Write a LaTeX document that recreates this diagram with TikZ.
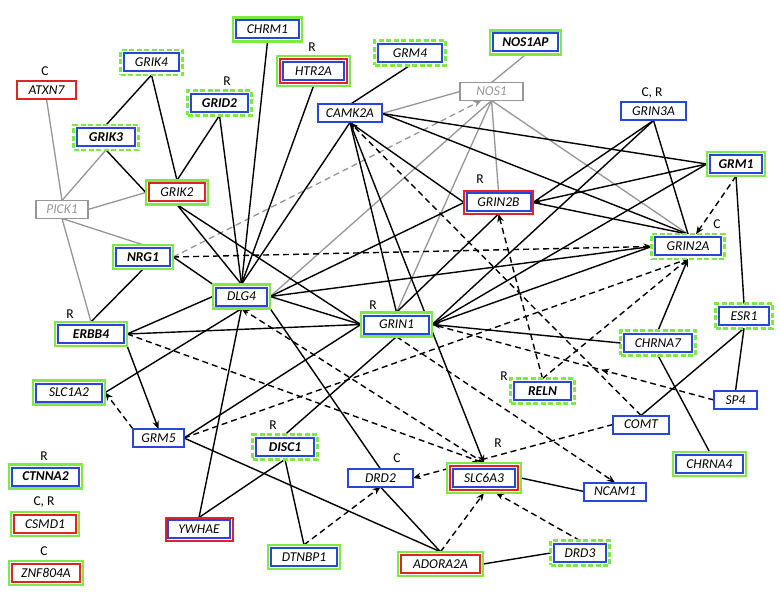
\documentclass[tikz,border=0pt]{standalone}
\usepackage{fontspec}
\setmainfont{Carlito}
\usetikzlibrary{arrows.meta,decorations.markings,backgrounds}
\definecolor{gblue}{RGB}{40,70,215}
\definecolor{ggreen}{RGB}{125,232,70}
\definecolor{gred}{RGB}{225,35,35}
\definecolor{ggray}{RGB}{150,150,150}
\newcommand\genefont{\fontsize{13.5}{15}\selectfont\itshape}
\newcommand\boxin[3]{\draw[#3] ([shift={(#2pt,#2pt)}]#1.south west) rectangle ([shift={(-#2pt,-#2pt)}]#1.north east);}
\tikzset{
  gbase/.style={outer sep=0pt, inner sep=0pt, fill=white, font=\genefont, text=black},
  bluebox/.style={draw=gblue, line width=2pt},
  redbox/.style={draw=gred, line width=2pt},
  kA/.style={gbase, draw=ggreen, line width=2.5pt, minimum width={(#1+6.4)*1pt}, minimum height=24.4pt},
  kB/.style={gbase, draw=ggreen, line width=2.5pt, dash pattern=on 5pt off 2.5pt, minimum width={(#1+6.8)*1pt}, minimum height=24.8pt},
  kC/.style={gbase, draw=gblue, line width=2pt, minimum width={#1*1pt}, minimum height=18pt},
  kD/.style={gbase, draw=gred, line width=2pt, minimum width={#1*1pt}, minimum height=18pt},
  kE/.style={gbase, draw=ggray, line width=1.5pt, text=ggray, minimum width={#1*1pt}, minimum height=18pt},
  kF/.style={gbase, draw=ggreen, line width=2.5pt, minimum width={(#1+12)*1pt}, minimum height=30pt},
  kG/.style={gbase, draw=ggreen, line width=2.5pt, minimum width={(#1+6.4)*1pt}, minimum height=24.4pt},
  kH/.style={gbase, draw=gred, line width=2pt, minimum width={(#1+5)*1pt}, minimum height=23pt},
  lab/.style={font=\fontsize{13.5}{15}\selectfont, inner sep=0pt},
  e/.style={draw=black, line width=1.4pt},
  ed/.style={e, dash pattern=on 6pt off 4pt},
  eg/.style={draw=ggray, line width=1.3pt},
  egd/.style={eg, dash pattern=on 6pt off 4pt},
  ar/.style={-{Stealth[length=8pt,width=6.5pt]}},
  midarrow/.style={postaction={decorate}, decoration={markings, mark=at position #1 with {\arrow{Stealth[length=8pt,width=6.5pt]}}}}
}
\newcommand\gA[5]{\node[kA=#4] (#1) at (#2,#3) {#5};\boxin{#1}{3.2}{bluebox}}
\newcommand\gB[5]{\node[kB=#4] (#1) at (#2,#3) {#5};\boxin{#1}{3.4}{bluebox}}
\newcommand\gC[5]{\node[kC=#4] (#1) at (#2,#3) {#5};}
\newcommand\gD[5]{\node[kD=#4] (#1) at (#2,#3) {#5};}
\newcommand\gE[5]{\node[kE=#4] (#1) at (#2,#3) {#5};}
\newcommand\gF[5]{\node[kF=#4] (#1) at (#2,#3) {#5};\boxin{#1}{3.2}{redbox}\boxin{#1}{6}{bluebox}}
\newcommand\gG[5]{\node[kG=#4] (#1) at (#2,#3) {#5};\boxin{#1}{3.2}{redbox}}
\newcommand\gH[5]{\node[kH=#4] (#1) at (#2,#3) {#5};\boxin{#1}{2.5}{bluebox}}
\begin{document}
\begin{tikzpicture}[x=1pt,y=-1pt]
\useasboundingbox (0,0) rectangle (780,607);
% nodes
\gA{CHRM1}{267.5}{29.5}{63}{CHRM1}
\gB{GRIK4}{151.5}{62.5}{55}{GRIK4}
\gD{ATXN7}{46.5}{90}{59}{ATXN7}
\gF{HTR2A}{313.5}{71}{61}{HTR2A}
\gB{GRM4}{410}{53}{64}{GRM4}
\gA{NOS1AP}{525.5}{42.5}{65}{\textbf{NOS1AP}}
\gE{NOS1}{491.5}{91.5}{63}{NOS1}
\gC{CAMK2A}{350}{113.5}{64}{CAMK2A}
\gB{GRID2}{219.5}{103}{57}{\textbf{GRID2}}
\gC{GRIN3A}{653.5}{111.5}{65}{GRIN3A}
\gB{GRIK3}{106}{137.5}{58}{\textbf{GRIK3}}
\gA{GRM1}{736}{164}{52}{\textbf{GRM1}}
\gG{GRIK2}{177}{192.5}{56}{GRIK2}
\gE{PICK1}{62}{209.5}{52}{PICK1}
\gH{GRIN2B}{498.5}{202.5}{64}{GRIN2B}
\gA{NRG1}{143}{257}{54}{\textbf{NRG1}}
\gB{GRIN2A}{688}{246.5}{66}{GRIN2A}
\gA{DLG4}{241.5}{296.5}{51}{DLG4}
\gA{ERBB4}{91}{334}{66}{\textbf{ERBB4}}
\gA{GRIN1}{396.5}{324.5}{65}{GRIN1}
\gB{ESR1}{744}{316}{50}{ESR1}
\gB{CHRNA7}{658}{343}{68}{CHRNA7}
\gA{SLC1A2}{69}{392.5}{66}{SLC1A2}
\gB{RELN}{542.5}{391}{57}{\textbf{RELN}}
\gC{SP4}{735.5}{400}{43}{SP4}
\gC{GRM5}{158.5}{438}{51}{GRM5}
\gC{COMT}{641}{424.5}{56}{COMT}
\gB{DISC1}{285}{447}{58}{\textbf{DISC1}}
\gA{CTNNA2}{45.5}{476.5}{67}{\textbf{CTNNA2}}
\gC{DRD2}{380.5}{478}{65}{DRD2}
\gF{SLC6A3}{484}{478}{62}{SLC6A3}
\gC{NCAM1}{615}{491.5}{62}{NCAM1}
\gA{CHRNA4}{709.5}{464}{67}{CHRNA4}
\gG{CSMD1}{45}{524}{62}{CSMD1}
\gH{YWHAE}{199}{529}{62}{YWHAE}
\gA{DTNBP1}{304}{557}{66}{DTNBP1}
\gG{ADORA2A}{440.5}{564}{79}{ADORA2A}
\gB{DRD3}{580}{553}{52}{DRD3}
\gG{ZNF804A}{46}{573}{68}{ZNF804A}
% labels
\node[lab] (lATXN7) at (45,71) {C};
\node[lab] (lHTR2A) at (312,47) {R};
\node[lab] (lGRID2) at (227,81) {R};
\node[lab] (lGRIN3A) at (652,93) {C, R};
\node[lab] (lGRIN2B) at (480,179) {R};
\node[lab] (lGRIN2A) at (717,224) {C};
\node[lab] (lERBB4) at (70,314) {R};
\node[lab] (lGRIN1) at (373,305) {R};
\node[lab] (lRELN) at (504,376) {R};
\node[lab] (lDISC1) at (273,425) {R};
\node[lab] (lDRD2) at (397,458) {C};
\node[lab] (lSLC6A3) at (498,443) {R};
\node[lab] (lCTNNA2) at (44,456) {R};
\node[lab] (lCSMD1) at (44,502) {C, R};
\node[lab] (lZNF804A) at (44,551) {C};
% edges
\begin{scope}[on background layer]
\fill[white] (0,0) rectangle (780,607);
% gray
\draw[eg] (ATXN7.south) -- (PICK1.north);
\draw[eg] (GRIK3.south) -- (PICK1.north);
\draw[eg] (GRIK2.west) -- (PICK1.east);
\draw[eg] (PICK1.south) -- (NRG1.north);
\draw[eg] (PICK1.south) -- (ERBB4.north);
\draw[eg] (NOS1AP.south) -- (NOS1.north);
\draw[eg] (CAMK2A.east) -- (NOS1.west);
\draw[eg] (NOS1.south) -- (DLG4.east);
\draw[eg] (NOS1.south) -- (GRIN1.north);
\draw[eg] (NOS1.south) -- (GRIN2B.north);
\draw[eg] (NOS1.south) -- (GRIN2A.north);
\draw[egd, ar] (NRG1.east) -- ([xshift=-10pt]NOS1.south);
% black solid
\draw[e] (GRIK4.south) -- (GRIK3.north);
\draw[e] (GRIK4.south) -- (GRIK2.north);
\draw[e] (GRIK3.south) -- (GRIK2.west);
\draw[e] (GRID2.south) -- (GRIK2.north);
\draw[e] (GRID2.south) -- (DLG4.north);
\draw[e] (CHRM1.south) -- (DLG4.north);
\draw[e] (HTR2A.south) -- (DLG4.north);
\draw[e] (GRIK2.south) -- (DLG4.north);
\draw[e] (GRIK2.south) -- (GRIN1.west);
\draw[e] (GRM4.south) -- (CAMK2A.north);
\draw[e] (CAMK2A.south) -- (DLG4.north);
\draw[e] (CAMK2A.south) -- (GRIN1.north);
\draw[e, ar] (CAMK2A.south) -- (SLC6A3.north);
\draw[e] (CAMK2A.south) -- (GRIN2B.west);
\draw[e] (CAMK2A.east) -- (GRM1.west);
\draw[e] (CAMK2A.east) -- (GRIN2A.north);
\draw[e] (GRIN3A.south) -- (GRIN2B.east);
\draw[e] (GRIN3A.south) -- (GRIN1.east);
\draw[e] (GRIN3A.south) -- (GRIN2A.north);
\draw[e, ar] (GRM1.west) -- (GRIN2B.east);
\draw[e] (GRM1.west) -- (GRIN1.east);
\draw[e] (GRM1.south) -- (ESR1.north);
\draw[e] (GRIN2B.east) -- (GRIN2A.north);
\draw[e] (GRIN2B.west) -- (DLG4.east);
\draw[e] (GRIN2B.south) -- (GRIN1.north);
\draw[e] (NRG1.south) -- (ERBB4.north);
\draw[e] (NRG1.east) -- (DLG4.north west);
\draw[e] (DLG4.west) -- (ERBB4.east);
\draw[e] (DLG4.south) -- (SLC1A2.east);
\draw[e] (DLG4.south) -- (YWHAE.north);
\draw[e] (DLG4.south east) -- (DRD2.north);
\draw[e] (DLG4.east) -- (GRIN2A.west);
\draw[e] (DLG4.east) -- (GRIN1.west);
\draw[e] (ERBB4.east) -- (GRIN1.west);
\draw[e, ar] (ERBB4.south east) -- (GRM5.north);
\draw[e] (GRM5.east) -- (GRIN1.west);
\draw[e] (GRM5.east) -- (ADORA2A.north);
\draw[e] (GRIN1.south) -- (DISC1.north);
\draw[e, ar] (CHRNA7.west) -- (GRIN1.east);
\draw[e] (GRIN1.east) -- (GRIN2A.west);
\draw[e, ar] (CHRNA7.north) -- (GRIN2A.south);
\draw[e] (CHRNA7.south) -- (CHRNA4.north);
\draw[e] (ESR1.south) -- (SP4.north);
\draw[e] (ESR1.south) -- (COMT.north);
\draw[e] (DISC1.south) -- (YWHAE.north);
\draw[e] (DISC1.south) -- (DTNBP1.north);
\draw[e] (DRD2.south) -- (ADORA2A.north);
\draw[e] (ADORA2A.east) -- (DRD3.west);
\draw[e] (SLC6A3.east) -- (NCAM1.west);
% black dashed
\draw[ed, ar] (COMT.north) -- (CAMK2A.south);
\draw[ed, ar] (GRM1.south) -- ([xshift=8pt]GRIN2A.north);
\draw[ed, ar] (NRG1.east) -- (GRIN2A.west);
\draw[ed, ar] (SLC6A3.north) -- (DLG4.south);
\draw[ed] (ERBB4.east) -- (SLC6A3.north);
\draw[ed, ar] (GRM5.north west) -- (SLC1A2.east);
\draw[ed] (GRM5.east) -- (GRIN2A.south);
\draw[ed, ar] (GRIN1.south) -- (NCAM1.north);
\draw[ed, midarrow=0.4] (SP4.west) -- (GRIN1.east);
\draw[ed, ar] (RELN.north) -- (GRIN2B.south);
\draw[ed] (RELN.north) -- (GRIN2A.south);
\draw[ed, ar] (COMT.west) -- (DRD2.east);
\draw[ed, ar] (DTNBP1.north) -- (DRD2.south);
\draw[ed, ar] (ADORA2A.north) -- (SLC6A3.south);
\draw[ed, ar] (DRD3.north) -- ([xshift=12pt]SLC6A3.south);
\end{scope}
\end{tikzpicture}
\end{document}
